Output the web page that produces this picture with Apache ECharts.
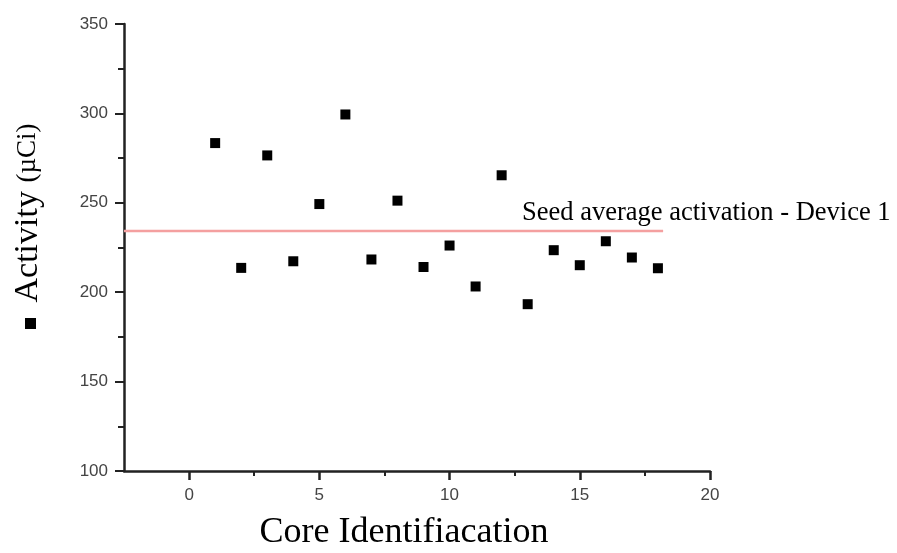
<!DOCTYPE html>
<html>
<head>
<meta charset="utf-8">
<script src="https://cdn.jsdelivr.net/npm/echarts@6/dist/echarts.min.js"></script>
<style>html,body{margin:0;padding:0;background:#fff;}#c{width:897px;height:553px;}</style>
</head>
<body>
<div id="c"></div>
<script>
const coreIds = [1, 2, 3, 4, 5, 6, 7, 8, 9, 10, 11, 12, 13, 14, 15, 16, 17, 18];
const activity = [283.4, 213.6, 276.5, 217.3, 249.3, 299.4, 218.3, 251.2, 214.1, 226.1, 203.2, 265.4, 193.3, 223.5, 215.1, 228.5, 219.4, 213.4];
const avgLineX = [-2.5, 18.2];
const avgValue = 234.2;
const xMajorTicks = [0, 5, 10, 15, 20];
const xMinorTicks = [2.5, 7.5, 12.5, 17.5];
const avgLabel = 'Seed average activation - Device 1';
const xTitle = 'Core Identifiacation';
const yTitleMain = 'Activity';
const yTitleUnit = '(µCi)';

const chart = echarts.init(document.getElementById('c'));
const axisColor = '#222';
const labelStyle = { color: '#444', fontFamily: 'Liberation Sans, Arial, sans-serif', fontSize: 17 };

chart.setOption({
  animation: false,
  backgroundColor: '#fff',
  grid: { left: 124, right: 187, top: 24, bottom: 82 },
  legend: {
    show: true,
    data: [{ name: 'Activity', icon: 'rect', itemStyle: { color: '#000', opacity: 1 } }],
    left: 20, top: 313,
    itemWidth: 11, itemHeight: 11,
    selectedMode: false,
    formatter: () => '',
    itemGap: 0
  },
  xAxis: [{
    type: 'value', min: -2.5, max: 20,
    axisLine: { show: true, onZero: false, lineStyle: { color: axisColor, width: 2.5 } },
    axisTick: { show: true, customValues: xMajorTicks, length: 9, lineStyle: { color: axisColor, width: 2.5 } },
    axisLabel: { show: true, customValues: xMajorTicks, margin: 16, ...labelStyle },
    splitLine: { show: false }
  }, {
    type: 'value', min: -2.5, max: 20, position: 'bottom',
    axisLine: { show: false },
    axisTick: { show: true, customValues: xMinorTicks, length: 5, lineStyle: { color: axisColor, width: 2 } },
    axisLabel: { show: false },
    splitLine: { show: false }
  }],
  yAxis: {
    type: 'value', min: 100, max: 350, interval: 50,
    axisLine: { show: true, onZero: false, lineStyle: { color: axisColor, width: 2.5 } },
    axisTick: { show: true, length: 9, lineStyle: { color: axisColor, width: 2 } },
    minorTick: { show: true, splitNumber: 2, length: 6, lineStyle: { color: axisColor, width: 2 } },
    axisLabel: { margin: 16, ...labelStyle },
    splitLine: { show: false }
  },
  series: [{
    name: 'Activity',
    type: 'scatter',
    symbol: 'rect',
    symbolSize: 10,
    itemStyle: { color: '#000', opacity: 1 },
    data: coreIds.map((x, i) => [x, activity[i]]),
    z: 3
  }, {
    name: 'avg',
    type: 'line',
    showSymbol: false,
    symbol: 'none',
    lineStyle: { color: '#f4a0a0', width: 2.5 },
    data: avgLineX.map(x => [x, avgValue]),
    z: 2
  }],
  graphic: [{
    type: 'text',
    x: 28, y: 213,
    rotation: Math.PI / 2,
    style: {
      text: '{a|' + yTitleMain + ' }{b|' + yTitleUnit + '}',
      align: 'center', verticalAlign: 'middle',
      fill: '#000',
      rich: {
        a: { fontFamily: 'Liberation Serif, Times New Roman, serif', fontSize: 34, fill: '#000' },
        b: { fontFamily: 'Liberation Serif, Times New Roman, serif', fontSize: 27, fill: '#000' }
      }
    }
  }, {
    type: 'text',
    x: 404, y: 533,
    style: {
      text: xTitle,
      fontFamily: 'Liberation Serif, Times New Roman, serif', fontSize: 36,
      align: 'center', verticalAlign: 'middle', fill: '#000'
    }
  }, {
    type: 'text',
    x: 522, y: 213,
    style: {
      text: avgLabel,
      fontFamily: 'Liberation Serif, Times New Roman, serif', fontSize: 26.5,
      align: 'left', verticalAlign: 'middle', fill: '#000'
    }
  }]
});
</script>
</body>
</html>
